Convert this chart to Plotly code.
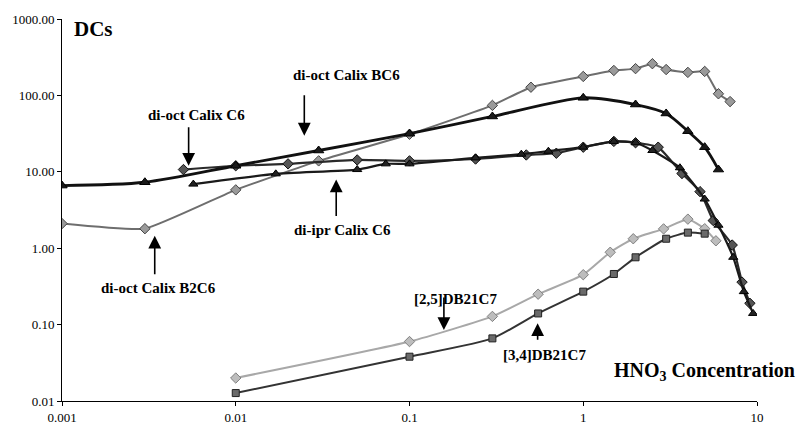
import plotly.graph_objects as go

# ---------------- data ----------------
bc6_x = [0.001, 0.003, 0.01, 0.03, 0.1, 0.3, 1, 2, 3, 4, 5, 6]
bc6_y = [6.6, 7.3, 12, 19, 31.5, 53, 93, 76, 58, 34, 21, 10.7]

b2c6_x = [0.001, 0.003, 0.01, 0.03, 0.1, 0.3, 0.5, 1, 1.5, 2, 2.5, 3, 4, 5, 6, 7]
b2c6_y = [2.1, 1.8, 5.8, 13.9, 31, 74, 128, 177, 212, 224, 260, 218, 200, 206, 105, 83]

c6oct_x = [0.005, 0.01, 0.02, 0.05, 0.1, 0.24, 0.47, 0.7, 1, 1.5, 2, 2.7, 3.7, 4.7, 5.6, 7.2, 8.2, 9.1]
c6oct_y = [10.7, 12, 12.7, 14.3, 13.9, 14.7, 16.6, 17.5, 21, 25, 24, 21, 9.5, 5.5, 2.3, 1.1, 0.36, 0.19]

c6ipr_x = [0.0057, 0.017, 0.05, 0.073, 0.1, 0.24, 0.44, 0.63, 1, 1.5, 2, 2.5, 3.6, 5, 6, 7.3, 8.4, 9.5]
c6ipr_y = [6.9, 9.4, 10.7, 12.7, 12.7, 15.2, 17, 18.6, 21, 25, 24, 19, 11.3, 4.4, 2.0, 0.76, 0.27, 0.14]

db25_x = [0.01, 0.1, 0.3, 0.55, 1, 1.43, 1.94, 2.9, 4, 5, 5.8]
db25_y = [0.020, 0.060, 0.128, 0.25, 0.45, 0.885, 1.33, 1.79, 2.4, 1.8, 1.25]

db34_x = [0.01, 0.1, 0.3, 0.55, 1, 1.5, 2, 3, 4, 5]
db34_y = [0.0127, 0.038, 0.066, 0.14, 0.27, 0.46, 0.76, 1.33, 1.6, 1.55]

x_ticks = [0.001, 0.01, 0.1, 1, 10]
x_tick_labels = ["0.001", "0.01", "0.1", "1", "10"]
y_ticks = [0.01, 0.1, 1, 10, 100, 1000]
y_tick_labels = ["0.01", "0.10", "1.00", "10.00", "100.00", "1000.00"]

# ---------------- figure ----------------
W, H = 797, 437
L, R, T, B = 60, 40, 17, 27
PW, PH = W - L - R, H - T - B
SERIF = "Liberation Serif"

fig = go.Figure()

def add(x, y, color, lw, symbol, msize, mfill, mline, smooth=0.6):
    fig.add_trace(go.Scatter(
        x=x, y=y, mode="lines+markers",
        line=dict(color=color, width=lw, shape="spline", smoothing=smooth),
        marker=dict(symbol=symbol, size=msize, color=mfill,
                    line=dict(color=mline, width=1)),
        showlegend=False, hoverinfo="skip"))

add(b2c6_x, b2c6_y, "#6e6e6e", 2.0, "diamond", 8, "#9a9a9a", "#444444", 0.4)
add(db25_x, db25_y, "#a8a8a8", 2.0, "diamond", 8, "#bdbdbd", "#808080", 0.5)
add(db34_x, db34_y, "#333333", 2.0, "square", 7, "#6a6a6a", "#222222", 0.6)
add(c6oct_x, c6oct_y, "#2a2a2a", 2.2, "diamond", 8, "#555555", "#111111", 0.5)
add(c6ipr_x, c6ipr_y, "#1a1a1a", 2.2, "triangle-up", 8, "#222222", "#000000", 0.5)
add(bc6_x, bc6_y, "#111111", 2.8, "triangle-up", 9, "#1a1a1a", "#000000", 0.8)

def px(xp):
    return (xp - L) / PW

def py(yp):
    return (T + PH - yp) / PH

anns = []

def text(label, xc, yc, size=15):
    anns.append(dict(text=label, x=px(xc), y=py(yc), xref="paper", yref="paper",
                     showarrow=False, xanchor="center", yanchor="middle",
                     font=dict(family=SERIF, size=size, color="#000")))

def arrow(xp, y_tail, y_tip):
    anns.append(dict(text="", x=px(xp), y=py(y_tip), xref="paper", yref="paper",
                     ax=0, ay=y_tail - y_tip, axref="pixel", ayref="pixel",
                     showarrow=True, arrowhead=2, arrowsize=1.6, arrowwidth=1.6,
                     arrowcolor="#000"))

text("<b>di-oct Calix BC6</b>", 345, 75)
arrow(303, 95, 137)
text("<b>di-oct Calix C6</b>", 195, 116)
arrow(187, 128, 168)
text("<b>di-ipr Calix C6</b>", 341, 234)
arrow(335, 220, 182)
text("<b>di-oct Calix B2C6</b>", 157, 294)
arrow(153, 280, 240)
text("<b>[2,5]DB21C7</b>", 455, 305)
arrow(443, 303, 337)
text("<b>[3,4]DB21C7</b>", 544, 363)
arrow(537, 348, 330)
text("<b>DCs</b>", 92, 27, 21)
anns.append(dict(text="<b>HNO<sub>3</sub> Concentration</b>", x=px(797), y=py(380),
                 xref="paper", yref="paper", showarrow=False,
                 xanchor="right", yanchor="middle",
                 font=dict(family=SERIF, size=20, color="#000")))

fig.update_layout(
    width=W, height=H,
    margin=dict(l=L, r=R, t=T, b=B, pad=0),
    paper_bgcolor="white", plot_bgcolor="white",
    annotations=anns,
    xaxis=dict(type="log", range=[-3, 1], tickvals=x_ticks, ticktext=x_tick_labels,
               showgrid=False, zeroline=False, showline=True, linecolor="#000",
               linewidth=1, ticks="outside", ticklen=4, tickcolor="#000",
               tickfont=dict(family=SERIF, size=13, color="#000")),
    yaxis=dict(type="log", range=[-2, 3], tickvals=y_ticks, ticktext=y_tick_labels,
               showgrid=False, zeroline=False, showline=True, linecolor="#000",
               linewidth=1, ticks="outside", ticklen=4, tickcolor="#000",
               tickfont=dict(family=SERIF, size=13, color="#000")),
)

fig.write_html("out.html")
